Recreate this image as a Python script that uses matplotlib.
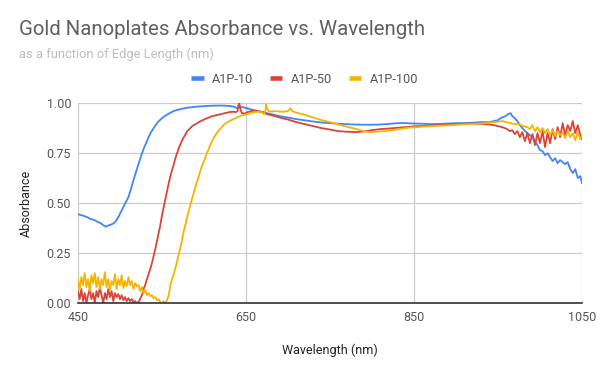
import matplotlib
matplotlib.use("Agg")
import matplotlib.pyplot as plt
from matplotlib.lines import Line2D

plt.rcParams['font.family'] = ['Roboto', 'DejaVu Sans']

series_names = ["A1P-10", "A1P-50", "A1P-100"]
colors = ["#4285F4", "#DB4437", "#F4B400"]

# A1P-10
wl_10 = [450, 453, 456, 459, 462, 465, 468, 471, 474, 477, 480, 483, 486, 489, 492, 495, 498,
         501, 504, 507, 510, 513, 516, 519, 522, 525, 528, 531, 534, 537, 540, 545, 550, 555,
         560, 565, 570, 575, 580, 590, 600, 610, 620, 630, 636, 639, 642, 648, 655, 662, 670,
         680, 690, 700, 710, 720, 730, 740, 750, 760, 770, 780, 790, 800, 810, 820, 830, 840,
         850, 860, 870, 880, 890, 900, 910, 920, 930, 940, 945, 950, 953, 956, 959, 962, 965,
         967, 970, 973, 976, 979, 982, 985, 988, 991, 994, 997, 1000, 1003, 1006, 1009, 1012,
         1015, 1018, 1021, 1024, 1027, 1030, 1033, 1036, 1039, 1042, 1045, 1048, 1050]
ab_10 = [.445, .44, .438, .432, .428, .42, .418, .412, .405, .40, .39, .382, .388, .392, .398, .41, .43,
         .455, .48, .505, .53, .57, .615, .655, .695, .735, .77, .80, .83, .855, .875, .905, .925, .94,
         .952, .962, .968, .973, .977, .982, .985, .987, .988, .986, .982, .975, .982, .978, .97, .962, .955,
         .945, .935, .928, .92, .914, .908, .903, .90, .897, .895, .893, .892, .892, .893, .896, .90, .90,
         .898, .897, .895, .896, .898, .90, .90, .902, .905, .905, .91, .915, .925, .93, .935, .945, .95,
         .935, .925, .91, .89, .875, .862, .85, .84, .83, .81, .79, .765, .76, .74, .75, .73,
         .71, .725, .70, .715, .705, .695, .705, .67, .65, .67, .625, .635, .60]

# A1P-50
wl_50 = [450, 452, 454, 456, 458, 460, 462, 464, 466, 468, 470, 472, 474, 476, 478, 480, 482, 484,
         486, 488, 490, 492, 494, 496, 498, 500, 502, 504, 506, 508, 510, 512, 514, 516, 518, 520,
         522, 524, 526, 528, 530, 532, 534, 536, 538, 540, 542, 544, 546, 548, 550, 552, 554, 556,
         558, 560, 562, 564, 566, 568, 570, 572, 574, 576, 578, 580, 583, 586, 590, 595, 600, 605,
         610, 615, 620, 625, 630, 635, 638, 640, 641, 642, 643, 645, 648, 652, 656, 660, 665, 670,
         675, 680, 690, 700, 710, 720, 730, 740, 750, 760, 770, 780, 790, 800, 810, 820, 830, 840,
         850, 860, 870, 880, 890, 900, 910, 920, 930, 940, 945, 950, 955, 958, 961, 964, 967, 970,
         973, 976, 979, 982, 985, 988, 991, 994, 997, 1000, 1003, 1006, 1009, 1012, 1015, 1018,
         1021, 1024, 1027, 1030, 1033, 1036, 1039, 1042, 1045, 1048, 1050]
ab_50 = [.06, .02, .07, .01, .05, .00, .04, .07, .02, .05, .00, .06, .03, .08, .04, .00, .05, .02,
         .07, .03, .06, .01, .05, .03, .045, .02, .04, .015, .03, .01, .025, .01, .02, .005, .01, .00,
         .005, .02, .04, .07, .09, .12, .145, .17, .20, .235, .27, .31, .35, .39, .44, .48, .52, .56,
         .60, .635, .665, .695, .725, .75, .775, .795, .815, .83, .845, .86, .872, .885, .895, .908, .918, .927,
         .935, .94, .945, .95, .955, .957, .955, .96, .99, 1.0, .975, .95, .948, .955, .96, .962, .96, .955,
         .945, .94, .928, .918, .905, .895, .885, .875, .868, .86, .857, .855, .858, .865, .87, .873, .877, .88,
         .884, .886, .888, .89, .893, .895, .897, .898, .897, .893, .89, .885, .88, .875, .87, .86, .865, .845,
         .86, .83, .855, .81, .85, .80, .845, .79, .85, .80, .86, .78, .85, .80, .87, .82,
         .88, .83, .90, .84, .89, .86, .91, .85, .89, .84, .82]

# A1P-100
wl_100 = [450, 452, 454, 456, 458, 460, 462, 464, 466, 468, 470, 472, 474, 476, 478, 480, 482, 484,
          486, 488, 490, 492, 494, 496, 498, 500, 502, 504, 506, 508, 510, 512, 514, 516, 518, 520,
          522, 524, 526, 528, 530, 532, 534, 536, 538, 540, 542, 544, 546, 548, 550, 552, 554, 556,
          558, 560, 562, 564, 566, 568, 570, 572, 574, 576, 578, 580, 582, 584, 586, 588, 590, 592,
          594, 596, 598, 600, 603, 606, 609, 612, 615, 618, 621, 624, 627, 630, 635, 640, 645, 650,
          655, 660, 665, 669, 671, 673, 674, 675, 677, 680, 685, 690, 695, 700, 703, 705, 708, 712,
          718, 725, 730, 740, 750, 760, 770, 780, 790, 797, 805, 815, 825, 835, 845, 855, 865, 875,
          885, 895, 905, 915, 925, 935, 945, 950, 955, 960, 965, 970, 975, 980, 985, 988, 991, 994,
          997, 1000, 1003, 1006, 1009, 1012, 1015, 1018, 1021, 1024, 1027, 1030, 1033, 1036, 1039,
          1042, 1045, 1048, 1050]
ab_100 = [.12, .07, .13, .09, .15, .08, .12, .06, .14, .10, .15, .08, .13, .07, .12, .09, .155, .08,
          .12, .065, .11, .09, .145, .07, .12, .09, .14, .075, .11, .085, .13, .09, .11, .07, .10, .085,
          .09, .06, .08, .05, .065, .04, .05, .035, .04, .025, .03, .015, .02, .005, .0, .01, .0, .015,
          .04, .09, .12, .145, .175, .21, .245, .28, .32, .36, .395, .43, .465, .495, .525, .555, .585, .61,
          .64, .665, .69, .71, .745, .775, .805, .83, .85, .865, .88, .893, .903, .91, .92, .93, .938, .944,
          .95, .955, .958, .955, .945, .96, .995, .975, .96, .958, .96, .958, .957, .96, .975, .96, .955, .95,
          .945, .935, .928, .915, .905, .893, .882, .872, .86, .855, .857, .86, .865, .872, .878, .88, .884, .886,
          .888, .89, .893, .895, .897, .90, .905, .908, .91, .905, .90, .895, .895, .885, .88, .87, .89, .86,
          .88, .855, .875, .85, .87, .84, .865, .835, .86, .84, .855, .825, .86, .83, .85,
          .815, .855, .82, .84]

x_ticks = [450, 650, 850, 1050]
y_ticks = [0.00, 0.25, 0.50, 0.75, 1.00]

fig = plt.figure(figsize=(6.0, 3.71), dpi=100)
ax = fig.add_axes([0.13, 0.183, 0.84, 0.539])

for wl, ab, c in zip([wl_10, wl_50, wl_100], [ab_10, ab_50, ab_100], colors):
    ax.plot(wl, ab, color=c, lw=1.3, solid_joinstyle='round', zorder=3)

ax.set_xlim(450, 1050)
ax.set_ylim(0, 1.0)
ax.set_xticks(x_ticks)
ax.set_yticks(y_ticks)
ax.set_yticklabels([f"{v:.2f}" for v in y_ticks])
ax.grid(True, color="#CCCCCC", lw=0.9, zorder=0)
ax.set_axisbelow(True)
for s in ["top", "right", "left"]:
    ax.spines[s].set_visible(False)
ax.spines["bottom"].set_color("#333333")
ax.spines["bottom"].set_linewidth(1.2)
ax.spines["bottom"].set_zorder(4)
ax.tick_params(axis='both', length=0, labelsize=9, labelcolor="#555555")
ax.tick_params(axis='x', pad=6)
ax.tick_params(axis='y', pad=5)
ax.set_xlabel("Wavelength (nm)", fontsize=9, color="#222222", labelpad=14)
ax.set_ylabel("Absorbance", fontsize=9, color="#222222", labelpad=10)

fig.text(0.032, 0.9046, "Gold Nanoplates Absorbance vs. Wavelength", fontsize=14.7,
         color="#5f5f5f", va="baseline", ha="left")
fig.text(0.032, 0.8437, "as a function of Edge Length (nm)", fontsize=9.3,
         color="#BDBDBD", va="baseline", ha="left")

handles = [Line2D([0], [0], color=c, lw=3.3, solid_capstyle='butt') for c in colors]
fig.legend(handles, series_names, loc="center", bbox_to_anchor=(0.508, 0.787), ncol=3,
           frameon=False, fontsize=9.2, handlelength=0.95, handletextpad=0.65,
           columnspacing=1.35, labelcolor="#555555", borderpad=0.0)

fig.savefig("out.png", dpi=100)
